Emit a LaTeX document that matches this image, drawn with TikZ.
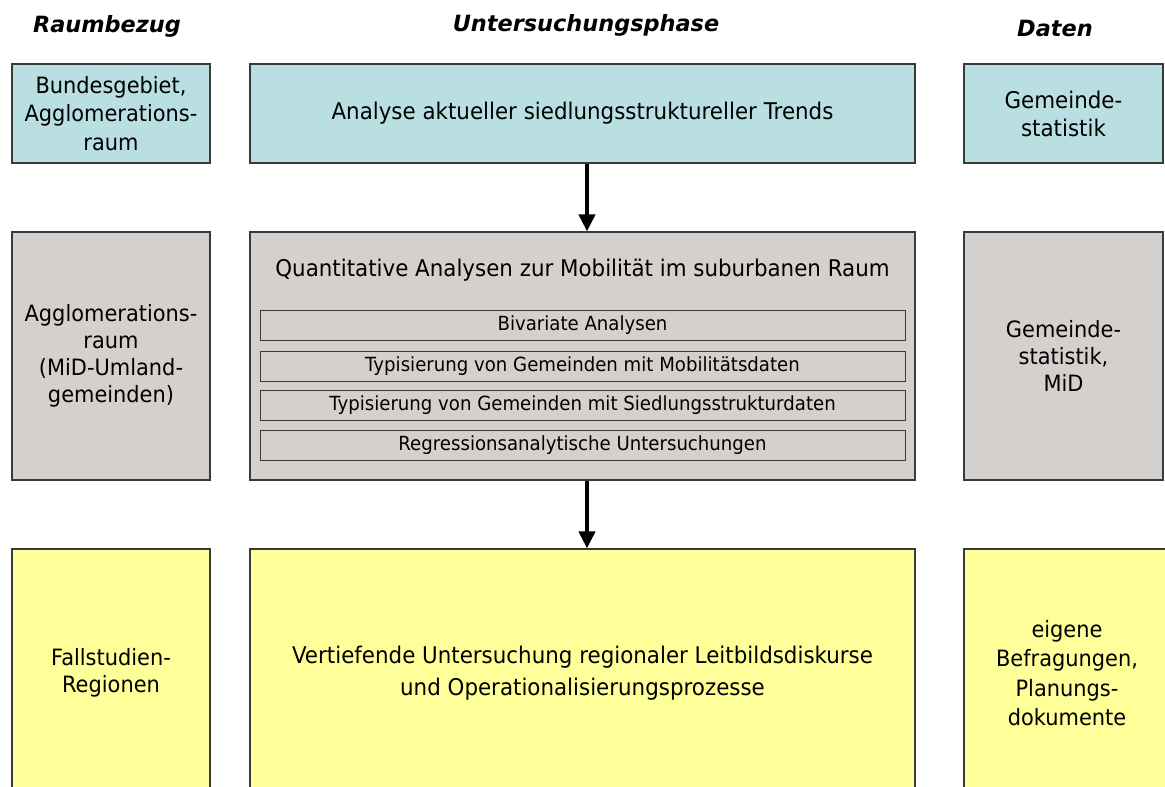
\documentclass[tikz,border=0pt]{standalone}
\usepackage{fontspec}
\setmainfont{DejaVu Sans}
\newfontfamily\mf[FakeStretch=0.93]{DejaVu Sans}
\usetikzlibrary{arrows.meta}
\definecolor{cyanbox}{HTML}{B9DFE3}
\definecolor{graybox}{HTML}{D4D0CE}
\definecolor{yelbox}{HTML}{FFFF99}
\definecolor{edge}{HTML}{3A3A3A}
\tikzset{
  box/.style={draw=edge, line width=1.2pt, inner sep=0pt, align=center, font=\mf\fontsize{23}{28}\selectfont},
  subbox/.style={draw=edge, line width=1pt, inner sep=0pt, minimum width=645pt, minimum height=30pt, font=\mf\fontsize{19.5}{22}\selectfont},
  head/.style={font=\fontsize{22.4}{26}\selectfont\bfseries\itshape},
  flow/.style={-{Triangle[length=17pt,width=16pt]}, line width=4pt, black},
}
\begin{document}
\begin{tikzpicture}[x=1pt,y=-1pt]
\useasboundingbox (0,0) rectangle (1165,787);
\clip (0,0) rectangle (1165,787);
% headers
\node[head] (h1) at (107,26) {Raumbezug};
\node[head] (h2) at (586,25) {Untersuchungsphase};
\node[head] (h3) at (1055,28) {Daten};
% top row
\node[box, fill=cyanbox, minimum width=198pt, minimum height=99pt, font=\mf\fontsize{22.5}{28.5}\selectfont] (a1) at (111,113.5) {Bundesgebiet,\\Agglomerations-\\raum};
\node[box, fill=cyanbox, minimum width=665pt, minimum height=99pt] (a2) at (582.5,113.5) {Analyse aktueller siedlungsstruktureller Trends};
\node[box, fill=cyanbox, minimum width=199pt, minimum height=99pt] (a3) at (1063.5,113.5) {Gemeinde-\\statistik};
% middle row
\node[box, fill=graybox, minimum width=198pt, minimum height=248pt, font=\mf\fontsize{22.5}{27}\selectfont] (b1) at (111,356) {Agglomerations-\\raum\\(MiD-Umland-\\gemeinden)};
\node[box, fill=graybox, minimum width=665pt, minimum height=248pt] (b2) at (582.5,356) {};
\node[box, fill=graybox, minimum width=199pt, minimum height=248pt, font=\mf\fontsize{22.5}{27}\selectfont] (b3) at (1063.5,356) {Gemeinde-\\statistik,\\MiD};
\node[font=\mf\fontsize{23}{26}\selectfont] (bt) at (582.5,270) {Quantitative Analysen zur Mobilität im suburbanen Raum};
\node[subbox] (s1) at (582.5,325.5) {Bivariate Analysen};
\node[subbox] (s2) at (582.5,366) {Typisierung von Gemeinden mit Mobilitätsdaten};
\node[subbox] (s3) at (582.5,405.5) {Typisierung von Gemeinden mit Siedlungsstrukturdaten};
\node[subbox] (s4) at (582.5,445.5) {Regressionsanalytische Untersuchungen};
% bottom row
\node[box, fill=yelbox, minimum width=198pt, minimum height=248pt, font=\mf\fontsize{22.5}{27}\selectfont] (c1) at (111,673) {Fallstudien-\\Regionen};
\node[box, fill=yelbox, minimum width=665pt, minimum height=248pt, font=\mf\fontsize{23}{32}\selectfont] (c2) at (582.5,673) {Vertiefende Untersuchung regionaler Leitbildsdiskurse\\und Operationalisierungsprozesse};
\node[box, fill=yelbox, minimum width=206pt, minimum height=248pt, font=\mf\fontsize{22.5}{29.5}\selectfont] (c3) at (1067,673) {eigene\\Befragungen,\\Planungs-\\dokumente};
% arrows
\draw[flow] ([xshift=4.5pt]a2.south) -- ([xshift=4.5pt]b2.north);
\draw[flow] ([xshift=4.5pt]b2.south) -- ([xshift=4.5pt]c2.north);
\end{tikzpicture}
\end{document}
